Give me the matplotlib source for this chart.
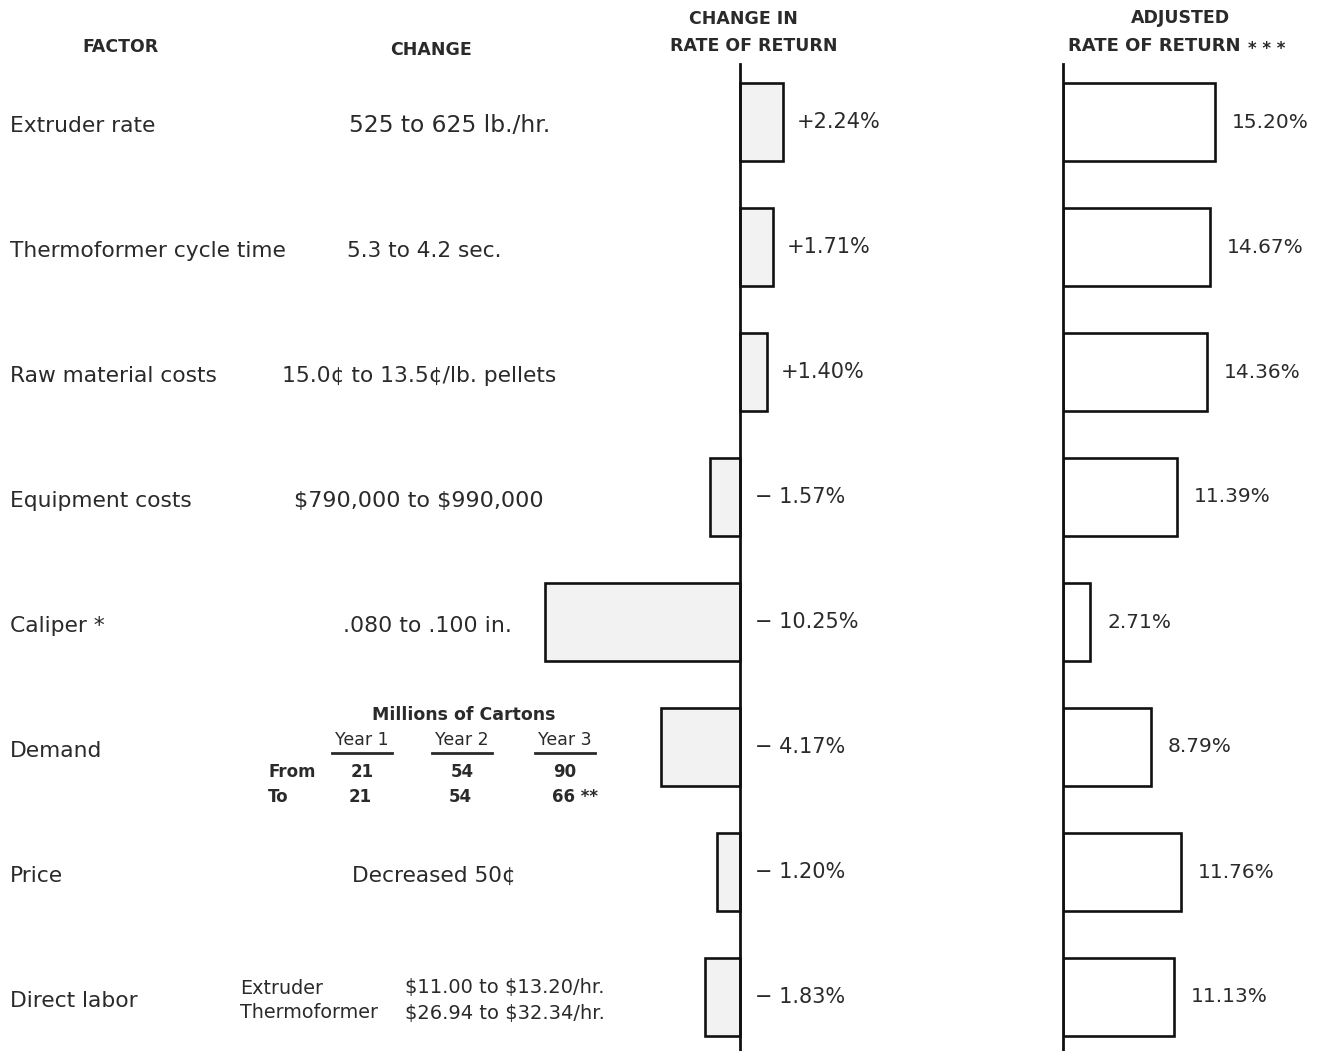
import matplotlib
matplotlib.use("Agg")
import matplotlib.pyplot as plt
import numpy as np

factors = ["Extruder rate", "Thermoformer cycle time", "Raw material costs",
           "Equipment costs", "Caliper *", "Demand", "Price", "Direct labor"]
changes = ["525 to 625 lb./hr.", "5.3 to 4.2 sec.", "15.0¢ to 13.5¢/lb. pellets",
           "$790,000 to $990,000", ".080 to .100 in.", "", "Decreased 50¢", ""]
delta = [2.24, 1.71, 1.40, -1.57, -10.25, -4.17, -1.20, -1.83]
adjusted = [15.20, 14.67, 14.36, 11.39, 2.71, 8.79, 11.76, 11.13]

years = ["Year 1", "Year 2", "Year 3"]
demand_from = ["21", "54", "90"]
demand_to = ["21", "54", "66 **"]
labor_jobs = ["Extruder", "Thermoformer"]
labor_rates = ["$11.00 to $13.20/hr.", "$26.94 to $32.34/hr."]

# where the change texts sit (the original was pasted up by hand)
change_x = [349, 347, 282, 294, 343, 0, 352, 0]
change_fs = [16.8, 15.6, 15.7, 16.0, 15.8, 0, 15.6, 0]

W, H = 1324, 1051
ink = "#2a2a2a"
plt.rcParams["font.family"] = ["DejaVu Sans"]

fig = plt.figure(figsize=(W / 100, H / 100), dpi=100)


def px(x, y, s, **kw):
    kw.setdefault("color", ink)
    kw.setdefault("va", "center")
    fig.text(x / W, 1 - y / H, s, parse_math=False, **kw)


rows = np.arange(len(factors))
row_y = 122 + 125 * rows

# headers
hdr = dict(fontsize=12.5, fontweight="bold")
px(121, 47, "FACTOR", ha="center", **hdr)
px(431, 50, "CHANGE", ha="center", **hdr)
px(743, 19, "CHANGE IN", ha="center", **hdr)
px(754, 46, "RATE OF RETURN", ha="center", **hdr)
px(1180, 18, "ADJUSTED", ha="center", **hdr)
px(1068, 46, "RATE OF RETURN", ha="left", fontsize=13, fontweight="bold")
px(1248, 49, "* * *", ha="left", fontsize=12, fontweight="bold")

for i in rows:
    px(10, row_y[i] + 4, factors[i], fontsize=15.7)
    if changes[i]:
        px(change_x[i], row_y[i] + 4, changes[i], fontsize=change_fs[i])

# demand table
px(464, 715, "Millions of Cartons", ha="center", fontsize=12.5, fontweight="bold")
for j, (xc, yr) in enumerate(zip([362, 462, 565], years)):
    px(xc, 740, yr, ha="center", fontsize=12.5)
    fig.add_artist(plt.Line2D([(xc - 30) / W, (xc + 30) / W], [1 - 753 / H] * 2,
                              color=ink, lw=2))
    px(xc, 772, demand_from[j], ha="center", fontsize=12, fontweight="bold")
    px(xc - 13, 797, demand_to[j], ha="left", fontsize=12, fontweight="bold")
px(268, 772, "From", fontsize=12, fontweight="bold")
px(268, 797, "To", fontsize=12, fontweight="bold")

# direct labor
for k, yy in enumerate([988, 1013]):
    px(240, yy, labor_jobs[k], fontsize=13.8)
    px(405, yy, labor_rates[k], fontsize=14)

# axes in row units
top_px, bot_px = 64, 1051
y_top = (top_px - 122) / 125
y_bot = (bot_px - 122) / 125

ax1 = fig.add_axes([520 / W, 0, 380 / W, (bot_px - top_px) / H])
ax1.barh(rows, delta, height=0.63, color="#f2f2f2", edgecolor="#111111", lw=1.9)
ax1.set_xlim(-11.58, 8.42)
ax1.set_ylim(y_bot, y_top)
for i, v in enumerate(delta):
    lab = f"+{v:.2f}%" if v > 0 else f"\u2212 {abs(v):.2f}%"
    ax1.text(max(v, 0) + (0.75 if v > 0 else 0.8), i, lab,
             va="center", ha="left", fontsize=15, color=ink)

ax2 = fig.add_axes([1063 / W, 0, 261 / W, (bot_px - top_px) / H])
ax2.barh(rows, adjusted, height=0.63, color="white", edgecolor="#111111", lw=1.9)
ax2.set_xlim(0, 26.1)
ax2.set_ylim(y_bot, y_top)
for i, v in enumerate(adjusted):
    ax2.text(v + 1.7, i, f"{v:.2f}%", va="center", ha="left", fontsize=14.5, color=ink)

for ax in (ax1, ax2):
    ax.patch.set_visible(False)
    for s in ["top", "right", "bottom"]:
        ax.spines[s].set_visible(False)
    ax.spines["left"].set_linewidth(2)
    ax.spines["left"].set_color("#111111")
    ax.set_xticks([])
    ax.set_yticks([])
ax1.spines["left"].set_position(("data", 0))

fig.savefig("out.png", dpi=100)
plt.close(fig)
